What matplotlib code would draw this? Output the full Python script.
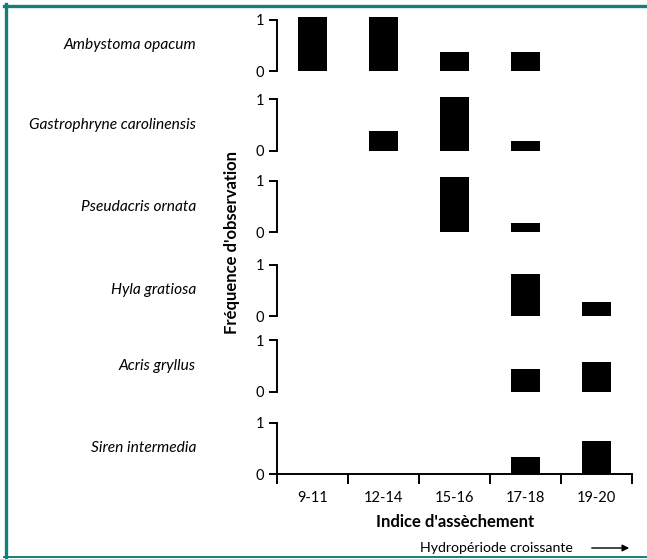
import matplotlib
matplotlib.use("Agg")
import matplotlib.pyplot as plt
from matplotlib.lines import Line2D

categories = ["9-11", "12-14", "15-16", "17-18", "19-20"]
species = ["Ambystoma opacum", "Gastrophryne carolinensis", "Pseudacris ornata",
           "Hyla gratiosa", "Acris gryllus", "Siren intermedia"]
ambystoma = [1.05, 1.05, 0.37, 0.37, 0.0]
gastrophryne = [0.0, 0.38, 1.05, 0.19, 0.0]
pseudacris = [0.0, 0.0, 1.07, 0.18, 0.0]
hyla = [0.0, 0.0, 0.0, 0.82, 0.28]
acris = [0.0, 0.0, 0.0, 0.45, 0.58]
siren = [0.0, 0.0, 0.0, 0.33, 0.65]
values = [ambystoma, gastrophryne, pseudacris, hyla, acris, siren]
yticks = [0, 1]
ylabel = "Fréquence d'observation"
xlabel = "Indice d'assèchement"
note = "Hydropériode croissante"

W, H = 647, 559
fig = plt.figure(figsize=(W / 100, H / 100), dpi=100)
fam = ["Lato", "DejaVu Sans"]

zero_px = [71, 150.7, 232.3, 316, 391.7, 474]
unit_px = 51.5
x0, x1 = 277, 632
teal = "#128079"

for i, (name, vals) in enumerate(zip(species, values)):
    z = zero_px[i]
    bottom = (H - z) / H
    height = 1.12 * unit_px / H
    ax = fig.add_axes([x0 / W, bottom, (x1 - x0) / W, height])
    xs = [k + 0.5 for k in range(len(categories))]
    ax.bar(xs, vals, width=0.42, color="black", edgecolor="none")
    ax.set_xlim(0, len(categories))
    ax.set_ylim(0, 1.12)
    ax.set_yticks(yticks)
    ax.set_yticklabels([str(t) for t in yticks], fontsize=10.5, family=fam)
    ax.spines["left"].set_bounds(0, 1)
    ax.spines["left"].set_linewidth(1.4)
    ax.spines["top"].set_visible(False)
    ax.spines["right"].set_visible(False)
    ax.tick_params(axis="y", length=6, width=1.4, pad=3)
    ax.patch.set_alpha(0)
    if i < len(species) - 1:
        ax.spines["bottom"].set_visible(False)
        ax.set_xticks([])
    else:
        ax.spines["bottom"].set_linewidth(1.4)
        ax.set_xticks(range(len(categories) + 1))
        ax.set_xticklabels([])
        ax.set_xticks(xs, minor=True)
        ax.set_xticklabels(categories, minor=True, fontsize=10.5, family=fam)
        ax.tick_params(axis="x", which="major", length=7, width=1.4)
        ax.tick_params(axis="x", which="minor", length=0, pad=12)
    fig.text(196 / W, (H - (z - unit_px / 2)) / H, name, ha="right", va="center",
             fontsize=11.2, style="italic", family=fam)

fig.text(232 / W, (H - 243) / H, ylabel, rotation=90, ha="center", va="center",
         fontsize=12, fontweight="bold", family=fam)
fig.text(455 / W, (H - 522) / H, xlabel, ha="center", va="center",
         fontsize=12, fontweight="bold", family=fam)
fig.text(573 / W, (H - 548) / H, note, ha="right", va="center",
         fontsize=10.2, family=fam)
fig.add_artist(matplotlib.patches.FancyArrowPatch(
    (589 / W, (H - 548) / H), (632 / W, (H - 548) / H),
    transform=fig.transFigure, arrowstyle="-|>", mutation_scale=10,
    color="black", lw=1.0))

# teal frame: top, left, bottom
fig.add_artist(Line2D([4 / W, 1], [(H - 5.5) / H] * 2, color=teal, lw=2.4,
                      transform=fig.transFigure))
fig.add_artist(Line2D([5.5 / W] * 2, [(H - 4) / H, (H - 557) / H], color=teal, lw=2.4,
                      transform=fig.transFigure))
fig.add_artist(Line2D([4 / W, 1], [(H - 557) / H] * 2, color=teal, lw=1.4,
                      transform=fig.transFigure))

fig.savefig("out.png", dpi=100)
